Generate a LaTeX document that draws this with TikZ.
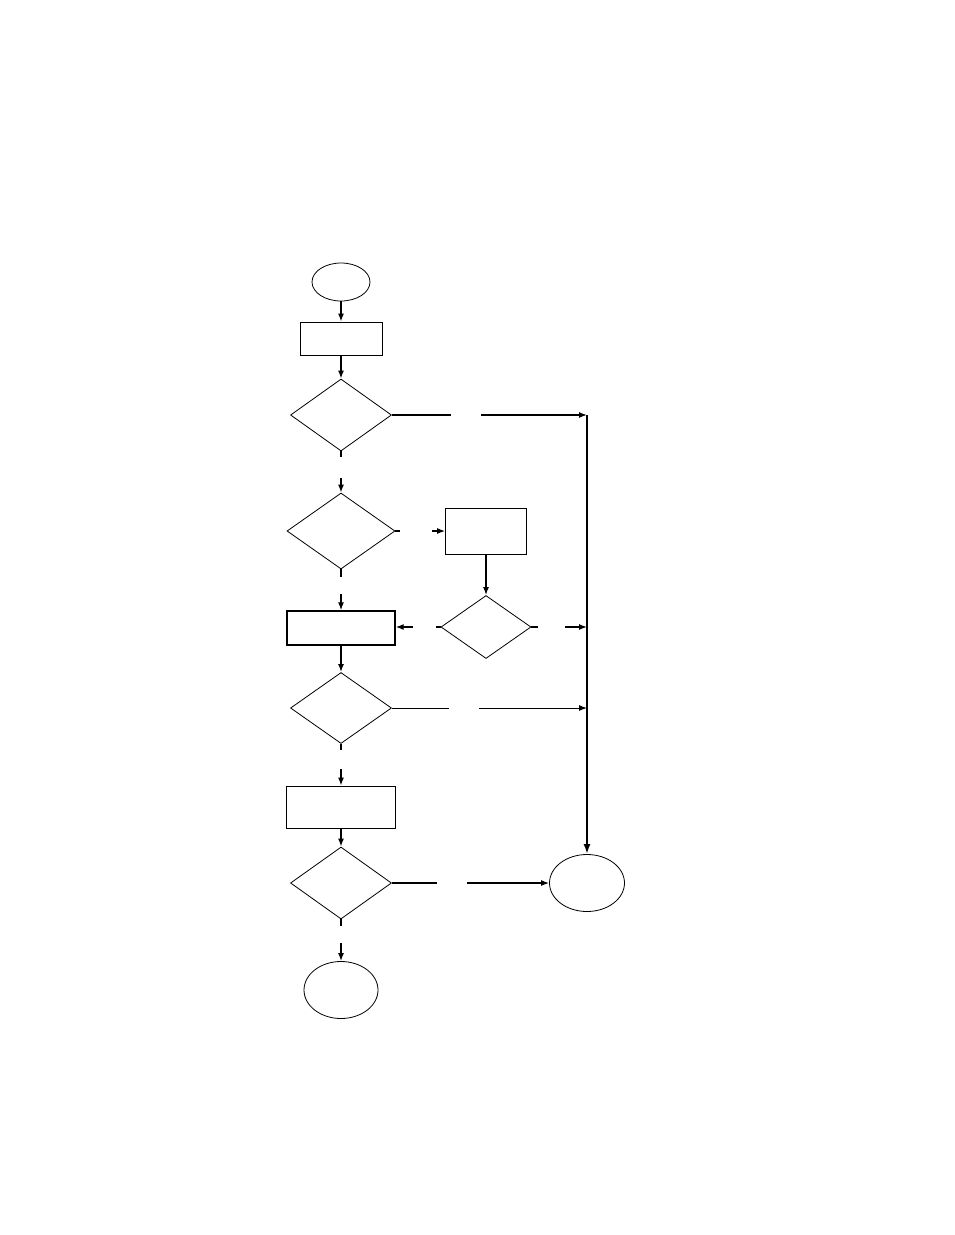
\documentclass[tikz,border=0pt]{standalone}
\usetikzlibrary{shapes.geometric,arrows.meta}
\begin{document}
\begin{tikzpicture}[x=1pt,y=-1pt,
 box/.style={draw,rectangle,inner sep=0pt,line width=0.8pt},
 dia/.style={draw,diamond,inner sep=0pt,line width=0.8pt},
 term/.style={draw,ellipse,inner sep=0pt,line width=0.8pt},
 conn/.style={line width=1.3pt},
 arr/.style={conn,-{Latex[length=8pt,width=6pt]}},
]
\useasboundingbox (0,0) rectangle (954,1235);
% nodes
\node[term,minimum width=58pt,minimum height=38pt] (s) at (341,282) {};
\node[box,minimum width=82pt,minimum height=33pt] (r1) at (341,338.5) {};
\node[dia,minimum width=101pt,minimum height=72pt] (d1) at (341,415) {};
\node[dia,minimum width=108pt,minimum height=76pt] (d2) at (341,531) {};
\node[box,minimum width=81pt,minimum height=46pt] (r2) at (486,531) {};
\node[dia,minimum width=90pt,minimum height=63pt] (d3) at (486,627) {};
\node[box,line width=1.4pt,minimum width=108pt,minimum height=34pt] (r3) at (341,628) {};
\node[dia,minimum width=101pt,minimum height=71pt] (d4) at (341,708) {};
\node[box,minimum width=109pt,minimum height=42pt] (r4) at (341,807) {};
\node[dia,minimum width=101pt,minimum height=72pt] (d5) at (341,883) {};
\node[term,minimum width=74pt,minimum height=57pt] (e1) at (341,990) {};
\node[term,minimum width=75pt,minimum height=57pt] (e2) at (587,883) {};
% gap coordinates
\coordinate (g1a) at (451,415); \coordinate (g1b) at (481,415);
\coordinate (g2a) at (341,457); \coordinate (g2b) at (341,478);
\coordinate (g3a) at (400,531); \coordinate (g3b) at (432,531);
\coordinate (g4a) at (436,627); \coordinate (g4b) at (413,627);
\coordinate (g5a) at (538,627); \coordinate (g5b) at (565,627);
\coordinate (g6a) at (341,577); \coordinate (g6b) at (341,594);
\coordinate (g7a) at (449,708); \coordinate (g7b) at (479,708);
\coordinate (g8a) at (341,750); \coordinate (g8b) at (341,769);
\coordinate (g9a) at (437,883); \coordinate (g9b) at (467,883);
\coordinate (g10a) at (341,926); \coordinate (g10b) at (341,943);
\coordinate (vtop) at (e2.north |- d1.east);
% connectors
\draw[arr] (s.south) -- (r1.north);
\draw[arr] (r1.south) -- (d1.north);
\draw[conn] (d1.east) -- (g1a);
\draw[arr] (g1b) -- (vtop);
\draw[line width=2pt,-{Latex[length=10pt,width=7pt]}] (vtop) -- (e2.north);
\draw[conn] (d1.south) -- (g2a);
\draw[arr] (g2b) -- (d2.north);
\draw[conn] (d2.east) -- (g3a);
\draw[arr] (g3b) -- (r2.west);
\draw[arr] (r2.south) -- (d3.north);
\draw[conn] (d3.west) -- (g4a);
\draw[arr] (g4b) -- (g4b -| r3.east);
\draw[conn] (d3.east) -- (g5a);
\draw[arr] (g5b) -- (g5b -| e2.north);
\draw[conn] (d2.south) -- (g6a);
\draw[arr] (g6b) -- (r3.north);
\draw[arr] (r3.south) -- (d4.north);
\draw[line width=1pt] (d4.east) -- (g7a);
\draw[line width=1pt,-{Latex[length=8pt,width=6pt]}] (g7b) -- (g7b -| e2.north);
\draw[conn] (d4.south) -- (g8a);
\draw[arr] (g8b) -- (r4.north);
\draw[arr] (r4.south) -- (d5.north);
\draw[conn] (d5.east) -- (g9a);
\draw[arr] (g9b) -- (e2.west);
\draw[conn] (d5.south) -- (g10a);
\draw[arr] (g10b) -- (e1.north);
\end{tikzpicture}
\end{document}
